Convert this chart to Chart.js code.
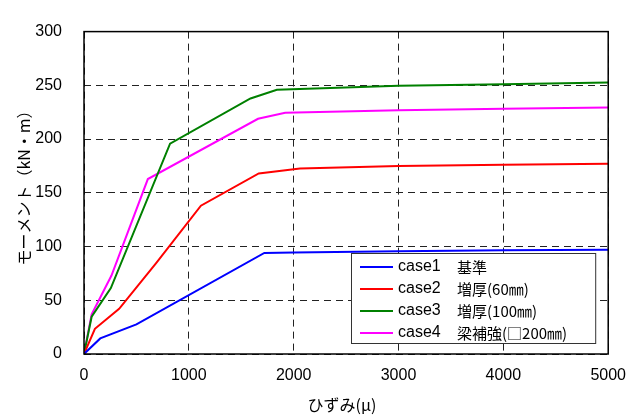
<!DOCTYPE html>
<html>
<head>
<meta charset="utf-8">
<script src="https://cdn.jsdelivr.net/npm/chart.js@4.4.1/dist/chart.umd.min.js"></script>
<style>
html,body{margin:0;padding:0;background:#fff;}
canvas{display:block;}
</style>
</head>
<body>
<canvas id="c" width="638" height="415"></canvas>
<script>
// ---- data ----
const seriesNames = ["case1", "case2", "case3", "case4"];
const seriesDesc = ["基準", "増厚(60㎜)", "増厚(100㎜)", "梁補強(□200㎜)"];
const seriesColors = ["#0000ff", "#ff0000", "#008000", "#ff00ff"];

const case1Strain = [0, 155, 500, 1720, 2000, 3000, 4000, 5000];
const case1Moment = [0, 14.5, 27.5, 94, 94.5, 95.5, 96.5, 97];

const case2Strain = [0, 104, 335, 688, 1115, 1667, 2060, 3000, 4000, 5000];
const case2Moment = [0, 23.5, 42, 84.5, 138, 168, 172.6, 175, 176, 177];

const case3Strain = [0, 73, 256, 821, 1588, 1840, 3000, 4000, 5000];
const case3Moment = [0, 34.7, 61.4, 195.7, 237.8, 245.8, 249.6, 251, 252.6];

const case4Strain = [0, 73, 262, 609, 1660, 1919, 3000, 4000, 5000];
const case4Moment = [0, 37, 73, 162.8, 218.9, 224.5, 226.7, 228.3, 229.3];

const xTicks = [0, 1000, 2000, 3000, 4000, 5000];
const yTicks = [0, 50, 100, 150, 200, 250, 300];

const xTitle = "ひずみ(μ)";
const yTitle = "モーメント（kN・m）";

// ---- build ----
const strains = [case1Strain, case2Strain, case3Strain, case4Strain];
const moments = [case1Moment, case2Moment, case3Moment, case4Moment];

const datasets = seriesNames.map((n, i) => ({
  label: n + "　" + seriesDesc[i],
  data: strains[i].map((x, k) => ({x: x, y: moments[i][k]})),
  borderColor: seriesColors[i],
  backgroundColor: seriesColors[i],
  borderWidth: 2,
  pointRadius: 0,
  fill: false,
  tension: 0
}));

const TICK_FONT = {family: "'Liberation Sans', Arial, sans-serif", size: 16};
const LAT = "'Liberation Sans', 'Noto Sans CJK JP', sans-serif";
const JP = "'Noto Sans CJK JP', sans-serif";

const overlay = {
  id: 'overlay',
  afterDatasetsDraw(chart) {
    const ctx = chart.ctx;
    const a = chart.chartArea;
    ctx.save();
    ctx.setLineDash([]);
    // plot frame
    ctx.strokeStyle = '#000';
    ctx.lineWidth = 1.5;
    ctx.strokeRect(a.left, a.top, a.right - a.left, a.bottom - a.top);

    // legend box
    const bx = a.left + 267, by = a.bottom - 101;
    const bw = (a.right - 13) - bx, bh = (a.bottom - 11) - by;
    ctx.fillStyle = '#fff';
    ctx.fillRect(bx, by, bw, bh);
    ctx.strokeStyle = '#333';
    ctx.lineWidth = 1;
    ctx.strokeRect(bx + 0.5, by + 0.5, bw, bh);
    ctx.textBaseline = 'middle';
    ctx.textAlign = 'left';
    chart.data.datasets.forEach((ds, i) => {
      const yy = by + 14 + i * 22;
      ctx.strokeStyle = ds.borderColor;
      ctx.lineWidth = 2;
      ctx.beginPath();
      ctx.moveTo(bx + 9, yy);
      ctx.lineTo(bx + 42, yy);
      ctx.stroke();
      ctx.fillStyle = '#000';
      ctx.font = "16px " + LAT;
      ctx.fillText(seriesNames[i], bx + 47, yy);
      ctx.font = "15px " + JP;
      ctx.fillText(seriesDesc[i], bx + 106, yy);
    });

    // axis titles
    ctx.fillStyle = '#000';
    ctx.font = "16px " + JP;
    ctx.textAlign = 'center';
    ctx.textBaseline = 'middle';
    ctx.fillText(xTitle, 342, 405);
    ctx.save();
    ctx.translate(24, 184);
    ctx.rotate(-Math.PI / 2);
    ctx.fillText(yTitle, 0, 0);
    ctx.restore();
    ctx.restore();
  }
};

new Chart(document.getElementById('c'), {
  type: 'line',
  data: {datasets: datasets},
  options: {
    responsive: false,
    animation: false,
    devicePixelRatio: 1,
    layout: {padding: {top: 17, right: 26, left: 0, bottom: 0}},
    plugins: {legend: {display: false}, tooltip: {enabled: false}},
    scales: {
      x: {
        type: 'linear',
        min: 0, max: 5000,
        afterBuildTicks: s => { s.ticks = xTicks.map(v => ({value: v})); },
        afterFit: s => { s.height = 61; },
        border: {display: false, dash: [7, 5]},
        grid: {color: '#222', lineWidth: 1, drawTicks: false},
        ticks: {color: '#000', font: TICK_FONT, padding: 12, maxRotation: 0,
                callback: v => String(v)}
      },
      y: {
        type: 'linear',
        min: 0, max: 300,
        afterBuildTicks: s => { s.ticks = yTicks.map(v => ({value: v})); },
        afterFit: s => { s.width = 84; },
        border: {display: false, dash: [7, 5]},
        grid: {color: '#222', lineWidth: 1, drawTicks: false},
        ticks: {color: '#000', font: TICK_FONT, padding: 22,
                callback: v => String(v)}
      }
    }
  },
  plugins: [overlay]
});
</script>
</body>
</html>
